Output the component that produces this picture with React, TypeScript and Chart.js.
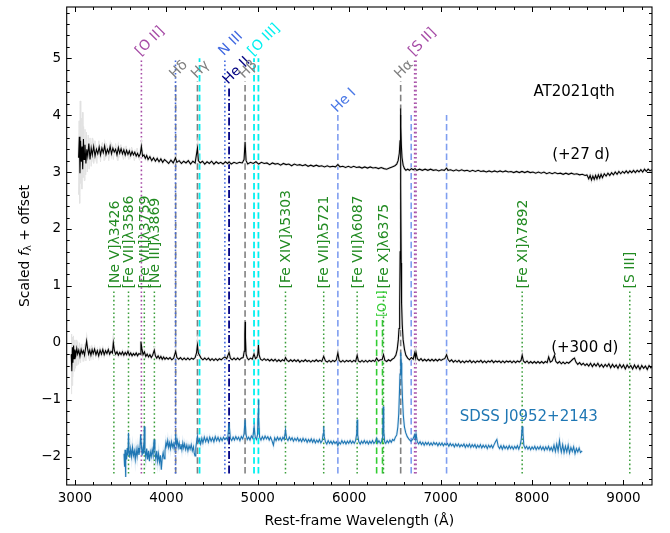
import React, { useEffect, useRef } from "react";
import { Chart, registerables } from "chart.js";
Chart.register(...registerables);

type P = [number, number];

const X_MIN = 2910;
const X_MAX = 9312;
const Y_MIN = -2.5;
const Y_MAX = 5.9;
const xTickValues = [3000, 4000, 5000, 6000, 7000, 8000, 9000];
const yTickValues = [-2, -1, 0, 1, 2, 3, 4, 5];

// +27 d spectrum (offset)
const spec27: P[] = [
  [3040,3.25],[3048,3.62],[3055,2.98],[3062,3.55],[3070,3.18],[3078,3.45],[3085,3.05],[3093,3.58],[3100,3.22],[3110,3.48],
  [3120,3.15],[3130,3.40],[3140,3.28],[3152,3.50],[3165,3.22],[3178,3.42],[3190,3.30],[3205,3.45],[3220,3.28],[3235,3.40],
  [3250,3.32],[3265,3.44],[3280,3.30],[3295,3.42],[3310,3.34],[3325,3.46],[3340,3.31],[3355,3.40],[3370,3.33],[3385,3.45],
  [3400,3.32],[3415,3.42],[3430,3.35],[3445,3.40],[3460,3.30],[3475,3.43],[3490,3.33],[3505,3.41],[3520,3.32],[3535,3.39],
  [3550,3.30],[3565,3.38],[3580,3.31],[3595,3.37],[3610,3.29],[3625,3.36],[3640,3.30],[3655,3.35],[3670,3.28],[3685,3.33],
  [3700,3.27],[3715,3.32],[3727,3.45],[3740,3.28],[3755,3.30],[3770,3.24],[3785,3.29],[3800,3.22],[3820,3.27],[3840,3.20],
  [3860,3.25],[3880,3.19],[3900,3.24],[3920,3.18],[3940,3.23],[3960,3.17],[3980,3.22],[4000,3.19],[4025,3.15],[4050,3.21],
  [4075,3.16],[4100,3.25],[4115,3.17],[4140,3.20],[4165,3.15],[4190,3.19],[4215,3.16],[4240,3.20],[4265,3.14],[4290,3.19],
  [4315,3.16],[4340,3.42],[4350,3.20],[4370,3.16],[4395,3.19],[4420,3.14],[4445,3.18],[4470,3.15],[4495,3.19],[4520,3.14],
  [4545,3.18],[4570,3.15],[4595,3.17],[4620,3.14],[4645,3.18],[4670,3.15],[4686,3.18],[4710,3.14],[4740,3.17],[4770,3.15],
  [4800,3.17],[4830,3.16],[4850,3.22],[4861,3.53],[4872,3.20],[4890,3.14],[4920,3.17],[4950,3.15],[4980,3.18],[5010,3.14],
  [5040,3.17],[5070,3.15],[5100,3.16],[5130,3.13],[5160,3.16],[5190,3.14],[5220,3.15],[5250,3.12],[5280,3.15],[5310,3.13],
  [5340,3.14],[5370,3.11],[5400,3.14],[5430,3.12],[5460,3.13],[5490,3.11],[5520,3.13],[5550,3.10],[5580,3.12],[5610,3.10],
  [5640,3.12],[5670,3.10],[5700,3.11],[5730,3.09],[5760,3.11],[5790,3.09],[5820,3.10],[5850,3.09],[5876,3.13],[5900,3.09],
  [5930,3.10],[5960,3.08],[5990,3.10],[6020,3.08],[6050,3.10],[6080,3.08],[6110,3.09],[6140,3.07],[6170,3.09],[6200,3.07],
  [6230,3.09],[6260,3.07],[6290,3.08],[6320,3.06],[6350,3.08],[6380,3.06],[6410,3.05],[6440,3.07],[6470,3.09],[6500,3.11],
  [6520,3.14],[6535,3.20],[6548,3.33],[6556,3.55],[6560,3.85],[6563,4.12],[6566,3.80],[6570,3.48],[6578,3.25],[6590,3.12],
  [6605,3.06],[6620,3.03],[6640,3.05],[6660,3.03],[6680,3.06],[6700,3.04],[6720,3.06],[6740,3.03],[6770,3.05],[6800,3.03],
  [6830,3.05],[6860,3.03],[6890,3.05],[6920,3.03],[6950,3.04],[6980,3.02],[7010,3.04],[7040,3.03],[7065,3.07],[7080,3.03],
  [7110,3.04],[7140,3.02],[7170,3.04],[7200,3.02],[7230,3.04],[7260,3.02],[7290,3.03],[7320,3.01],[7350,3.03],[7380,3.01],
  [7410,3.03],[7440,3.01],[7470,3.02],[7500,3.00],[7530,3.02],[7560,3.00],[7590,3.02],[7620,3.00],[7650,3.02],[7680,3.00],
  [7710,3.02],[7740,3.00],[7770,3.01],[7800,2.99],[7830,3.01],[7860,2.99],[7890,3.01],[7920,2.99],[7950,3.01],[7980,2.99],
  [8010,3.00],[8040,2.98],[8070,3.00],[8100,2.98],[8130,3.00],[8160,2.97],[8190,2.99],[8220,2.97],[8250,2.99],[8280,2.97],
  [8310,2.98],[8340,2.96],[8370,2.98],[8400,2.96],[8430,2.98],[8460,2.96],[8490,2.97],[8520,2.95],[8550,2.96],[8580,2.94],
  [8600,2.95],[8620,2.88],[8635,2.94],[8650,2.86],[8665,2.93],[8680,2.87],[8695,2.94],[8710,2.88],[8725,2.95],[8740,2.89],
  [8755,2.96],[8770,2.90],[8790,2.97],[8810,2.93],[8830,2.98],[8850,2.94],[8870,2.99],[8890,2.95],[8910,3.00],[8930,2.96],
  [8950,3.01],[8970,2.97],[8990,3.01],[9010,2.98],[9030,3.02],[9050,2.98],[9070,3.02],[9090,2.99],[9110,3.03],[9130,2.99],
  [9150,3.03],[9170,3.00],[9190,3.04],[9210,3.00],[9230,3.05],[9250,3.01],[9270,3.05],[9290,3.02],[9310,3.04],
];

// +300 d spectrum (offset)
const spec300: P[] = [
  [2960,-0.20],[2966,-0.50],[2972,-0.08],[2978,-0.35],[2985,-0.05],[2992,-0.28],[3000,-0.12],[3010,-0.22],[3020,-0.10],[3030,-0.20],
  [3042,-0.13],[3055,-0.24],[3068,-0.12],[3080,-0.19],[3092,-0.14],[3105,-0.22],[3118,-0.08],[3128,0.03],[3138,-0.10],[3150,-0.20],
  [3162,-0.13],[3175,-0.22],[3188,-0.12],[3200,-0.19],[3215,-0.11],[3230,-0.21],[3245,-0.14],[3260,-0.23],[3275,-0.13],[3290,-0.20],
  [3305,-0.12],[3320,-0.21],[3335,-0.14],[3350,-0.19],[3365,-0.12],[3380,-0.20],[3395,-0.15],[3410,-0.18],[3420,0.00],[3432,-0.14],
  [3445,-0.20],[3460,-0.16],[3475,-0.22],[3490,-0.17],[3505,-0.21],[3520,-0.16],[3535,-0.22],[3550,-0.17],[3565,-0.21],[3580,-0.15],
  [3595,-0.22],[3610,-0.18],[3625,-0.23],[3640,-0.19],[3655,-0.22],[3670,-0.18],[3685,-0.23],[3700,-0.19],[3712,-0.20],[3722,0.02],
  [3732,-0.10],[3745,-0.21],[3760,-0.16],[3775,-0.24],[3790,-0.20],[3805,-0.25],[3820,-0.21],[3835,-0.26],[3850,-0.22],[3868,-0.13],
  [3880,-0.23],[3895,-0.27],[3910,-0.23],[3925,-0.28],[3940,-0.24],[3955,-0.29],[3970,-0.25],[3985,-0.29],[4000,-0.26],[4020,-0.29],
  [4040,-0.26],[4060,-0.30],[4080,-0.27],[4102,-0.15],[4115,-0.26],[4135,-0.29],[4155,-0.26],[4175,-0.30],[4195,-0.27],[4215,-0.30],
  [4235,-0.27],[4255,-0.30],[4275,-0.27],[4295,-0.29],[4315,-0.26],[4330,-0.18],[4340,-0.04],[4350,-0.18],[4363,-0.22],[4380,-0.27],
  [4400,-0.30],[4420,-0.27],[4440,-0.30],[4460,-0.27],[4480,-0.31],[4500,-0.28],[4520,-0.31],[4540,-0.28],[4560,-0.31],[4580,-0.28],
  [4600,-0.30],[4620,-0.27],[4640,-0.25],[4660,-0.28],[4686,-0.17],[4700,-0.27],[4720,-0.30],[4740,-0.27],[4760,-0.30],[4780,-0.27],
  [4800,-0.30],[4820,-0.27],[4840,-0.26],[4852,-0.15],[4858,0.15],[4861,0.37],[4865,0.10],[4872,-0.20],[4885,-0.27],[4900,-0.30],
  [4920,-0.27],[4940,-0.29],[4959,-0.20],[4975,-0.28],[4990,-0.26],[5000,-0.20],[5007,-0.04],[5015,-0.22],[5030,-0.29],[5050,-0.31],
  [5070,-0.28],[5090,-0.31],[5110,-0.29],[5130,-0.32],[5150,-0.29],[5170,-0.32],[5190,-0.29],[5210,-0.33],[5230,-0.30],[5250,-0.33],
  [5270,-0.30],[5290,-0.32],[5303,-0.26],[5320,-0.31],[5340,-0.33],[5360,-0.30],[5380,-0.33],[5400,-0.30],[5420,-0.33],[5440,-0.30],
  [5460,-0.34],[5480,-0.31],[5500,-0.33],[5520,-0.30],[5540,-0.33],[5560,-0.31],[5580,-0.34],[5600,-0.31],[5620,-0.33],[5640,-0.30],
  [5660,-0.33],[5680,-0.31],[5700,-0.33],[5721,-0.24],[5740,-0.32],[5760,-0.34],[5780,-0.31],[5800,-0.34],[5820,-0.31],[5840,-0.33],
  [5860,-0.30],[5876,-0.18],[5890,-0.31],[5910,-0.34],[5930,-0.31],[5950,-0.34],[5970,-0.31],[5990,-0.33],[6010,-0.31],[6030,-0.34],
  [6050,-0.31],[6070,-0.33],[6087,-0.22],[6100,-0.32],[6120,-0.34],[6140,-0.31],[6160,-0.34],[6180,-0.31],[6200,-0.34],[6220,-0.31],
  [6240,-0.33],[6260,-0.31],[6280,-0.33],[6300,-0.27],[6320,-0.32],[6340,-0.30],[6360,-0.30],[6375,-0.21],[6390,-0.31],[6410,-0.33],
  [6430,-0.30],[6450,-0.32],[6470,-0.29],[6490,-0.27],[6510,-0.22],[6525,-0.12],[6537,0.05],[6545,0.25],[6552,0.60],[6557,1.60],
  [6560,3.00],[6563,4.00],[6566,2.80],[6569,1.40],[6573,0.70],[6580,0.32],[6590,0.05],[6605,-0.12],[6620,-0.22],[6640,-0.27],
  [6660,-0.30],[6680,-0.26],[6700,-0.29],[6716,-0.18],[6724,-0.26],[6731,-0.17],[6745,-0.28],[6765,-0.31],[6785,-0.28],[6805,-0.32],
  [6825,-0.29],[6845,-0.32],[6865,-0.29],[6885,-0.32],[6905,-0.29],[6925,-0.32],[6945,-0.29],[6965,-0.32],[6985,-0.29],[7005,-0.31],
  [7025,-0.29],[7045,-0.28],[7065,-0.21],[7080,-0.29],[7100,-0.33],[7120,-0.30],[7140,-0.34],[7160,-0.31],[7180,-0.34],[7200,-0.31],
  [7220,-0.35],[7240,-0.32],[7260,-0.35],[7280,-0.32],[7300,-0.34],[7320,-0.31],[7340,-0.35],[7360,-0.32],[7380,-0.35],[7400,-0.32],
  [7420,-0.34],[7440,-0.31],[7460,-0.35],[7480,-0.32],[7500,-0.35],[7520,-0.32],[7540,-0.34],[7560,-0.31],[7580,-0.35],[7600,-0.32],
  [7620,-0.34],[7640,-0.32],[7660,-0.35],[7680,-0.32],[7700,-0.35],[7720,-0.32],[7740,-0.34],[7760,-0.32],[7780,-0.35],[7800,-0.32],
  [7820,-0.35],[7840,-0.32],[7860,-0.34],[7880,-0.31],[7892,-0.22],[7905,-0.32],[7925,-0.35],[7945,-0.32],[7965,-0.36],[7985,-0.33],
  [8005,-0.36],[8025,-0.33],[8045,-0.36],[8065,-0.33],[8085,-0.36],[8105,-0.33],[8125,-0.36],[8145,-0.33],[8165,-0.35],[8182,-0.25],
  [8200,-0.34],[8220,-0.32],[8245,-0.22],[8260,-0.33],[8280,-0.36],[8300,-0.33],[8320,-0.37],[8340,-0.34],[8360,-0.37],[8380,-0.34],
  [8400,-0.36],[8420,-0.33],[8445,-0.29],[8464,-0.27],[8480,-0.34],[8500,-0.38],[8520,-0.35],[8540,-0.39],[8560,-0.36],[8580,-0.40],
  [8600,-0.37],[8620,-0.41],[8640,-0.36],[8660,-0.42],[8680,-0.37],[8700,-0.41],[8720,-0.36],[8740,-0.42],[8760,-0.38],[8780,-0.43],
  [8800,-0.38],[8820,-0.42],[8840,-0.37],[8860,-0.44],[8880,-0.38],[8900,-0.43],[8920,-0.39],[8940,-0.45],[8960,-0.38],[8980,-0.44],
  [9000,-0.39],[9020,-0.46],[9040,-0.39],[9060,-0.44],[9080,-0.40],[9100,-0.46],[9120,-0.39],[9140,-0.45],[9160,-0.40],[9180,-0.47],
  [9200,-0.40],[9220,-0.45],[9240,-0.41],[9260,-0.47],[9280,-0.40],[9300,-0.44],[9310,-0.42],
];

// SDSS J0952+2143 spectrum (offset)
const specSDSS: P[] = [
  [3537,-1.95],[3543,-2.18],[3548,-1.88],[3553,-2.36],[3558,-1.92],[3565,-2.05],[3572,-1.85],[3580,-1.98],[3586,-1.58],[3592,-1.90],
  [3600,-2.02],[3610,-1.86],[3620,-2.00],[3630,-1.84],[3640,-1.98],[3650,-1.90],[3660,-2.05],[3670,-1.88],[3680,-2.00],[3690,-1.85],
  [3700,-1.97],[3710,-1.88],[3719,-1.61],[3727,-1.80],[3735,-1.98],[3745,-1.85],[3752,-1.95],[3759,-1.47],[3766,-1.88],[3775,-2.02],
  [3785,-1.86],[3795,-2.05],[3805,-1.90],[3815,-2.08],[3825,-1.92],[3835,-2.00],[3845,-1.88],[3855,-1.98],[3865,-1.70],[3875,-1.92],
  [3885,-2.05],[3895,-1.90],[3905,-2.08],[3915,-1.95],[3925,-2.10],[3935,-1.98],[3945,-2.23],[3955,-2.02],[3965,-1.93],[3975,-2.04],
  [3985,-1.90],[3996,-1.75],[4005,-1.82],[4015,-1.72],[4025,-1.84],[4035,-1.76],[4045,-1.86],[4055,-1.74],[4065,-1.83],[4075,-1.77],
  [4085,-1.86],[4095,-1.75],[4102,-1.61],[4110,-1.80],[4120,-1.72],[4130,-1.84],[4140,-1.76],[4150,-1.86],[4160,-1.78],[4170,-1.88],
  [4180,-1.76],[4190,-1.85],[4200,-1.78],[4212,-1.88],[4224,-1.80],[4236,-1.90],[4248,-1.81],[4260,-1.87],[4272,-1.79],[4284,-1.90],
  [4296,-1.83],[4306,-1.95],[4314,-1.99],[4322,-1.85],[4330,-1.75],[4340,-1.64],[4350,-1.74],[4363,-1.70],[4375,-1.78],[4388,-1.68],
  [4400,-1.76],[4415,-1.66],[4430,-1.74],[4445,-1.67],[4460,-1.75],[4475,-1.66],[4490,-1.73],[4505,-1.67],[4520,-1.74],[4535,-1.65],
  [4550,-1.72],[4565,-1.66],[4580,-1.73],[4595,-1.67],[4610,-1.72],[4625,-1.66],[4640,-1.70],[4655,-1.67],[4670,-1.71],[4686,-1.41],
  [4700,-1.68],[4715,-1.72],[4730,-1.66],[4745,-1.71],[4760,-1.65],[4775,-1.70],[4790,-1.66],[4805,-1.72],[4820,-1.65],[4835,-1.69],
  [4850,-1.60],[4861,-1.35],[4872,-1.62],[4885,-1.70],[4900,-1.66],[4915,-1.71],[4930,-1.64],[4945,-1.68],[4960,-1.47],[4972,-1.66],
  [4985,-1.70],[4997,-1.62],[5003,-1.30],[5007,-1.00],[5012,-1.35],[5020,-1.66],[5035,-1.71],[5050,-1.65],[5065,-1.70],[5080,-1.64],
  [5095,-1.69],[5110,-1.65],[5125,-1.71],[5140,-1.66],[5155,-1.72],[5171,-1.80],[5185,-1.67],[5200,-1.72],[5215,-1.66],[5230,-1.71],
  [5245,-1.67],[5260,-1.72],[5275,-1.66],[5290,-1.70],[5303,-1.53],[5315,-1.68],[5330,-1.72],[5345,-1.66],[5360,-1.71],[5375,-1.67],
  [5390,-1.73],[5405,-1.68],[5420,-1.72],[5435,-1.67],[5450,-1.73],[5465,-1.69],[5480,-1.74],[5495,-1.68],[5510,-1.73],[5525,-1.69],
  [5540,-1.75],[5555,-1.70],[5570,-1.74],[5585,-1.69],[5600,-1.75],[5615,-1.70],[5630,-1.76],[5645,-1.71],[5660,-1.75],[5675,-1.70],
  [5690,-1.76],[5705,-1.72],[5715,-1.60],[5721,-1.47],[5727,-1.65],[5740,-1.74],[5755,-1.78],[5770,-1.72],[5785,-1.77],[5800,-1.73],
  [5815,-1.78],[5830,-1.73],[5845,-1.77],[5860,-1.74],[5876,-1.81],[5890,-1.75],[5905,-1.78],[5920,-1.72],[5935,-1.77],[5950,-1.73],
  [5965,-1.78],[5980,-1.73],[5995,-1.77],[6010,-1.72],[6025,-1.77],[6040,-1.73],[6055,-1.77],[6070,-1.72],[6082,-1.60],[6087,-1.35],
  [6093,-1.62],[6105,-1.74],[6120,-1.78],[6135,-1.73],[6150,-1.77],[6165,-1.72],[6180,-1.77],[6195,-1.73],[6210,-1.78],[6225,-1.73],
  [6240,-1.77],[6255,-1.72],[6270,-1.77],[6285,-1.74],[6300,-1.68],[6312,-1.76],[6325,-1.72],[6340,-1.77],[6355,-1.73],[6366,-1.66],
  [6372,-1.12],[6378,-1.55],[6388,-1.74],[6400,-1.77],[6415,-1.72],[6430,-1.76],[6445,-1.71],[6460,-1.75],[6475,-1.70],[6490,-1.72],
  [6505,-1.66],[6520,-1.62],[6532,-1.48],[6542,-1.25],[6550,-0.85],[6556,-0.55],[6561,-0.30],[6566,-0.17],[6570,-0.35],[6575,-0.62],
  [6582,-0.95],[6592,-1.28],[6604,-1.48],[6618,-1.58],[6635,-1.65],[6655,-1.70],[6675,-1.73],[6695,-1.70],[6716,-1.62],[6723,-1.70],
  [6731,-1.60],[6745,-1.74],[6760,-1.78],[6775,-1.74],[6790,-1.79],[6805,-1.75],[6820,-1.80],[6835,-1.75],[6850,-1.79],[6865,-1.75],
  [6880,-1.80],[6895,-1.76],[6910,-1.80],[6925,-1.75],[6940,-1.79],[6955,-1.76],[6970,-1.81],[6985,-1.76],[7000,-1.80],[7015,-1.76],
  [7030,-1.81],[7045,-1.77],[7060,-1.80],[7075,-1.77],[7090,-1.82],[7105,-1.77],[7120,-1.81],[7135,-1.78],[7150,-1.83],[7165,-1.78],
  [7180,-1.82],[7195,-1.78],[7210,-1.83],[7225,-1.79],[7240,-1.82],[7255,-1.78],[7270,-1.84],[7285,-1.79],[7300,-1.83],[7315,-1.78],
  [7330,-1.84],[7345,-1.79],[7360,-1.83],[7375,-1.79],[7390,-1.85],[7405,-1.80],[7420,-1.84],[7435,-1.79],[7450,-1.85],[7465,-1.80],
  [7480,-1.84],[7495,-1.80],[7510,-1.86],[7525,-1.80],[7540,-1.84],[7555,-1.80],[7570,-1.85],[7585,-1.79],[7600,-1.74],[7615,-1.70],
  [7630,-1.82],[7645,-1.86],[7660,-1.81],[7675,-1.87],[7690,-1.81],[7705,-1.86],[7720,-1.82],[7735,-1.87],[7750,-1.81],[7765,-1.86],
  [7780,-1.82],[7795,-1.87],[7810,-1.82],[7825,-1.86],[7840,-1.81],[7855,-1.87],[7870,-1.80],[7882,-1.70],[7892,-1.47],[7900,-1.58],
  [7910,-1.80],[7925,-1.86],[7940,-1.82],[7955,-1.87],[7970,-1.83],[7985,-1.88],[8000,-1.83],[8015,-1.87],[8030,-1.82],[8045,-1.88],
  [8060,-1.83],[8075,-1.87],[8090,-1.82],[8105,-1.88],[8120,-1.83],[8135,-1.89],[8150,-1.83],[8165,-1.88],[8180,-1.82],[8195,-1.89],
  [8210,-1.84],[8225,-1.90],[8240,-1.80],[8255,-1.91],[8270,-1.78],[8285,-1.90],[8300,-1.72],[8310,-1.84],[8320,-1.92],[8335,-1.79],
  [8350,-1.93],[8365,-1.82],[8380,-1.92],[8395,-1.80],[8410,-1.94],[8425,-1.84],[8440,-1.91],[8455,-1.83],[8470,-1.95],[8485,-1.86],
  [8500,-1.92],[8515,-1.85],[8530,-1.93],[8548,-1.90],
];

// light-grey error envelope at the noisy blue ends
const err27Start: P[] = [
  [3040,2.6],[3046,3.9],[3052,2.45],[3058,4.25],[3064,2.8],[3070,3.95],[3076,2.7],[3082,4.05],[3088,2.9],[3095,3.8],
  [3102,2.85],[3110,3.75],[3118,2.95],[3126,3.7],[3135,3.0],[3145,3.65],[3155,3.05],[3165,3.6],[3178,3.1],[3190,3.6],
  [3205,3.15],[3220,3.55],[3240,3.15],[3260,3.55],[3280,3.18],[3300,3.52],[3320,3.2],[3345,3.5],[3370,3.2],[3395,3.52],
  [3420,3.22],[3445,3.5],[3470,3.2],[3500,3.48],[3530,3.22],[3560,3.46],[3590,3.22],[3620,3.44],[3650,3.2],[3680,3.42],[3710,3.2],
];
const err300Start: P[] = [
  [2960,-0.9],[2964,0.15],[2968,-0.75],[2973,0.1],[2978,-0.6],[2984,0.12],[2990,-0.5],[2997,0.05],[3005,-0.45],[3012,0.05],
  [3020,-0.4],[3030,0.02],[3040,-0.38],[3050,0.0],[3062,-0.35],[3075,-0.02],[3090,-0.33],[3105,-0.02],[3120,-0.32],[3140,-0.05],
  [3160,-0.32],[3180,-0.05],[3200,-0.3],
];

// line markers (rest wavelengths, Å) and the heights their marks reach
const lineBottom = -2.3;
const balmerWl = [4102, 4340, 4861, 6563];
const balmerNames = ["H\u03b4", "H\u03b3", "H\u03b2", "H\u03b1"];
const balmerTop = 4.6;
const bowenWl = [4100, 4640];
const bowenTop = 5.0;
const oiiiWl = [4363, 4959, 5007];
const oiiiTop = 5.0;
const heiiWl = [4686];
const heiiTop = 4.5;
const heiWl = [5876, 6678, 7065];
const heiTop = 4.0;
const oiiWl = [3727];
const siiWl = [6716, 6731];
const forbTop = 5.0;
const coronalWl = [3426, 3586, 3759, 3869, 5303, 5721, 6087, 6375, 7892, 9069];
const coronalNames = [
  "[Ne V]\u03bb3426", "[Fe VII]\u03bb3586", "[Fe VII]\u03bb3759", "[Ne III]\u03bb3869", "[Fe XIV]\u03bb5303",
  "[Fe VII]\u03bb5721", "[Fe VII]\u03bb6087", "[Fe X]\u03bb6375", "[Fe XI]\u03bb7892", "[S III]",
];
const coronalTop = 0.9;
const oiWl = [6300, 6364];
const oiTop = 0.42;

const FONT = "DejaVu Sans";
const C_GRAY = "#808080";
const C_BOWEN = "#4169e1";
const C_OIII = "#00f0f0";
const C_HEII = "#000080";
const C_HEI_LINE = "#7f9ef0";
const C_HEI_TEXT = "#4a78e6";
const C_PURPLE = "#a64ca6";
const C_CORONAL = "#228b22";
const C_CORONAL_LINE = "#3a9e3a";
const C_OI = "#32cd32";
const C_SDSS = "#1f77b4";

const DOT = [1.6, 2.6];
const DASH = [6.5, 3.3];
const DASHDOT = [8, 2.5, 1.5, 2.5];

function vlines(wls: number[], top: number, color: string, dash: number[], width: number) {
  return wls.map((w) => ({
    data: [{ x: w, y: lineBottom }, { x: w, y: top }],
    borderColor: color,
    borderDash: dash,
    borderWidth: width,
    pointRadius: 0,
    order: 5,
  }));
}

function toXY(arr: P[]) {
  return arr.map(([x, y]) => ({ x, y }));
}

const overlay = {
  id: "overlay",
  afterDatasetsDraw(chart: any) {
    const { ctx, scales } = chart;
    const xs = scales.x, ys = scales.y;
    const px = (v: number) => xs.getPixelForValue(v);
    const py = (v: number) => ys.getPixelForValue(v);

    const diag: { t: string; w: number; y: number; c: string }[] = [
      { t: "[O II]", w: oiiWl[0], y: forbTop, c: C_PURPLE },
      { t: balmerNames[0], w: balmerWl[0], y: balmerTop, c: C_GRAY },
      { t: balmerNames[1], w: balmerWl[1], y: balmerTop, c: C_GRAY },
      { t: "N III", w: bowenWl[1], y: bowenTop, c: C_BOWEN },
      { t: "He II", w: heiiWl[0], y: heiiTop, c: C_HEII },
      { t: balmerNames[2], w: balmerWl[2], y: balmerTop, c: C_GRAY },
      { t: "[O III]", w: oiiiWl[1], y: oiiiTop, c: C_OIII },
      { t: "He I", w: heiWl[0], y: heiTop, c: C_HEI_TEXT },
      { t: balmerNames[3], w: balmerWl[3], y: balmerTop, c: C_GRAY },
      { t: "[S II]", w: siiWl[0], y: forbTop, c: C_PURPLE },
    ];
    ctx.save();
    ctx.font = `14px '${FONT}'`;
    ctx.textAlign = "left";
    ctx.textBaseline = "alphabetic";
    for (const d of diag) {
      ctx.save();
      ctx.translate(px(d.w) - 1, py(d.y) - 2);
      ctx.rotate(-Math.PI / 4);
      ctx.fillStyle = d.c;
      ctx.fillText(d.t, 0, 0);
      ctx.restore();
    }

    ctx.textBaseline = "middle";
    for (let i = 0; i < coronalWl.length; i++) {
      ctx.save();
      ctx.translate(px(coronalWl[i]) + 1, py(coronalTop) - 3);
      ctx.rotate(-Math.PI / 2);
      ctx.fillStyle = C_CORONAL;
      ctx.fillText(coronalNames[i], 0, 0);
      ctx.restore();
    }
    ctx.save();
    ctx.translate(px(oiWl[1]), py(oiTop) - 2);
    ctx.rotate(-Math.PI / 2);
    ctx.fillStyle = C_OI;
    ctx.font = `12px '${FONT}'`;
    ctx.fillText("[O I]", 0, 0);
    ctx.restore();

    ctx.font = `15px '${FONT}'`;
    ctx.textBaseline = "middle";
    ctx.textAlign = "left";
    ctx.fillStyle = "#000";
    ctx.fillText("AT2021qth", px(8015), py(4.4));
    ctx.fillText("(+27 d)", px(8220), py(3.3));
    ctx.fillText("(+300 d)", px(8209), py(-0.09));
    ctx.fillStyle = C_SDSS;
    ctx.fillText("SDSS J0952+2143", px(7208), py(-1.3));
    ctx.restore();
  },
  afterDraw(chart: any) {
    const { ctx, chartArea: a, scales } = chart;
    const xs = scales.x, ys = scales.y;
    ctx.save();
    ctx.strokeStyle = "#000";
    ctx.lineWidth = 1.1;
    ctx.strokeRect(a.left, a.top, a.right - a.left, a.bottom - a.top);
    const MAJ = 5, MIN = 3;
    ctx.lineWidth = 1;
    ctx.beginPath();
    const xMinor: number[] = [];
    for (let v = 3000; v <= X_MAX; v += 200) if (v % 1000 !== 0) xMinor.push(v);
    const yMinor: number[] = [];
    for (let k = -24; k <= 58; k += 2) if (k % 10 !== 0) yMinor.push(k / 10);
    const xt = (v: number, len: number) => {
      const p = Math.round(xs.getPixelForValue(v)) + 0.5;
      ctx.moveTo(p, a.bottom); ctx.lineTo(p, a.bottom - len);
      ctx.moveTo(p, a.top); ctx.lineTo(p, a.top + len);
    };
    const yt = (v: number, len: number) => {
      const p = Math.round(ys.getPixelForValue(v)) + 0.5;
      ctx.moveTo(a.left, p); ctx.lineTo(a.left + len, p);
      ctx.moveTo(a.right, p); ctx.lineTo(a.right - len, p);
    };
    xTickValues.forEach((v) => xt(v, MAJ));
    xMinor.forEach((v) => xt(v, MIN));
    yTickValues.forEach((v) => yt(v, MAJ));
    yMinor.forEach((v) => yt(v, MIN));
    ctx.stroke();

    ctx.fillStyle = "#000";
    ctx.font = `14px '${FONT}'`;
    ctx.textAlign = "center";
    ctx.textBaseline = "middle";
    ctx.fillText("Rest-frame Wavelength (\u00c5)", (a.left + a.right) / 2, 521);

    const parts = [
      { t: "Scaled ", f: `14px '${FONT}'`, dy: 0 },
      { t: "f", f: `italic 14px '${FONT}'`, dy: 0 },
      { t: "\u03bb", f: `10px '${FONT}'`, dy: 3 },
      { t: " + offset", f: `14px '${FONT}'`, dy: 0 },
    ];
    let total = 0;
    for (const p of parts) { ctx.font = p.f; total += ctx.measureText(p.t).width; }
    ctx.save();
    ctx.translate(25, (a.top + a.bottom) / 2);
    ctx.rotate(-Math.PI / 2);
    ctx.textAlign = "left";
    ctx.textBaseline = "middle";
    let cx = -total / 2;
    for (const p of parts) {
      ctx.font = p.f;
      ctx.fillText(p.t, cx, p.dy);
      cx += ctx.measureText(p.t).width;
    }
    ctx.restore();
    ctx.restore();
  },
};

export default function App() {
  const ref = useRef<HTMLCanvasElement | null>(null);
  useEffect(() => {
    document.body.style.margin = "0";
    if (!ref.current) return;
    const datasets: any[] = [
      { data: toXY(spec27), borderColor: "#000", borderWidth: 1.1, pointRadius: 0, order: 0 },
      { data: toXY(spec300), borderColor: "#000", borderWidth: 1.1, pointRadius: 0, order: 0 },
      { data: toXY(specSDSS), borderColor: C_SDSS, borderWidth: 1.1, pointRadius: 0, order: 0 },
      { data: toXY(spec27), borderColor: "#e4e4e4", borderWidth: 2.6, pointRadius: 0, order: 2 },
      { data: toXY(spec300), borderColor: "#e4e4e4", borderWidth: 2.6, pointRadius: 0, order: 2 },
      { data: toXY(specSDSS), borderColor: "rgba(31,119,180,0.12)", borderWidth: 2.6, pointRadius: 0, order: 2 },
      { data: toXY(err27Start), borderColor: "#e2e2e2", borderWidth: 1, pointRadius: 0, order: 3 },
      { data: toXY(err300Start), borderColor: "#e2e2e2", borderWidth: 1, pointRadius: 0, order: 3 },
      ...vlines(coronalWl, coronalTop, C_CORONAL_LINE, DOT, 1.5),
      ...vlines(oiWl, oiTop, C_OI, DASH, 1.6),
      ...vlines(oiiWl, forbTop, C_PURPLE, DOT, 1.6),
      ...vlines(siiWl, forbTop, C_PURPLE, DOT, 1.6),
      ...vlines(bowenWl, bowenTop, C_BOWEN, DOT, 1.6),
      ...vlines(balmerWl, balmerTop, C_GRAY, DASH, 1.6),
      ...vlines(oiiiWl, oiiiTop, C_OIII, DASH, 1.8),
      ...vlines(heiiWl, heiiTop, C_HEII, DASHDOT, 1.8),
      ...vlines(heiWl, heiTop, C_HEI_LINE, DASH, 1.6),
    ];
    const chart = new Chart(ref.current, {
      type: "line",
      data: { datasets },
      plugins: [overlay],
      options: {
        responsive: false,
        animation: false,
        devicePixelRatio: 1,
        layout: { padding: { top: 7, right: 18, left: 0, bottom: 0 } },
        plugins: { legend: { display: false }, tooltip: { enabled: false } },
        elements: { line: { tension: 0 } },
        scales: {
          x: {
            type: "linear",
            min: X_MIN,
            max: X_MAX,
            grid: { display: false, drawTicks: false },
            border: { display: false },
            ticks: {
              font: { family: FONT, size: 13.5 },
              color: "#000",
              padding: 5,
              maxRotation: 0,
              autoSkip: false,
              callback: (v: any) => String(v),
            },
            afterBuildTicks: (s: any) => { s.ticks = xTickValues.map((value) => ({ value })); },
            afterFit: (s: any) => { s.height = 48; s.paddingLeft = 0; s.paddingRight = 0; },
          },
          y: {
            type: "linear",
            min: Y_MIN,
            max: Y_MAX,
            grid: { display: false, drawTicks: false },
            border: { display: false },
            ticks: {
              font: { family: FONT, size: 13.5 },
              color: "#000",
              padding: 5.5,
              autoSkip: false,
              callback: (v: any) => (v < 0 ? "\u2212" + Math.abs(v) : String(v)),
            },
            afterBuildTicks: (s: any) => { s.ticks = yTickValues.map((value) => ({ value })); },
            afterFit: (s: any) => { s.width = 66.7; s.paddingTop = 0; s.paddingBottom = 0; },
          },
        },
      } as any,
    });
    return () => chart.destroy();
  }, []);
  return (
    <div style={{ width: 670, height: 533 }}>
      <canvas ref={ref} width={670} height={533} style={{ display: "block" }} />
    </div>
  );
}
